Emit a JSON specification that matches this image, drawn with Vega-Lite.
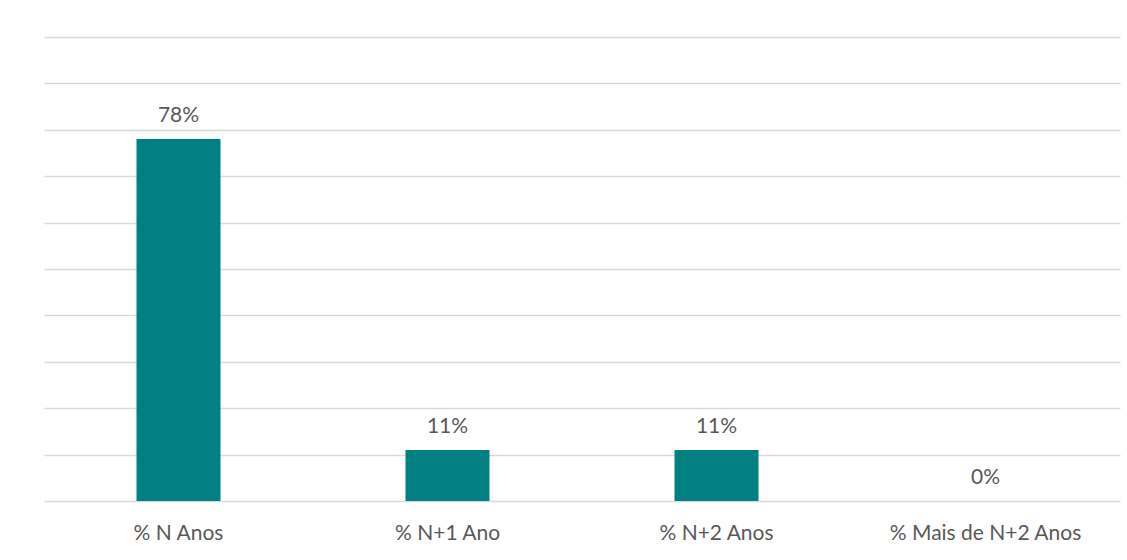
{
  "$schema": "https://vega.github.io/schema/vega-lite/v6.json",
  "width": 1076,
  "height": 464,
  "autosize": {"type": "none"},
  "padding": {"left": 44, "top": 37, "right": 7, "bottom": 59},
  "background": "#ffffff",
  "config": {"view": {"stroke": null}, "font": "Lato"},
  "data": {
    "values": [
      {"categoria": "% N Anos", "valor": 0.78},
      {"categoria": "% N+1 Ano", "valor": 0.11},
      {"categoria": "% N+2 Anos", "valor": 0.11},
      {"categoria": "% Mais de N+2 Anos", "valor": 0.0}
    ]
  },
  "encoding": {
    "x": {
      "field": "categoria",
      "type": "nominal",
      "sort": null,
      "scale": {"paddingInner": 0.6877, "paddingOuter": 0.34385},
      "axis": {
        "title": null,
        "domain": false,
        "ticks": false,
        "tickSize": 0,
        "labelPadding": 21,
        "labelAngle": 0,
        "labelLimit": 0,
        "labelFont": "Lato",
        "labelFontSize": 21,
        "labelColor": "#595959",
        "grid": false
      }
    },
    "y": {
      "field": "valor",
      "type": "quantitative",
      "scale": {"domain": [0, 1], "nice": false},
      "axis": {
        "title": null,
        "labels": false,
        "ticks": false,
        "domain": false,
        "values": [0, 0.1, 0.2, 0.3, 0.4, 0.5, 0.6, 0.7, 0.8, 0.9, 1.0],
        "grid": true,
        "gridColor": "#d9d9d9",
        "gridWidth": 1.3
      }
    }
  },
  "layer": [
    {"mark": {"type": "bar", "color": "#008080"}},
    {
      "mark": {
        "type": "text",
        "baseline": "alphabetic",
        "dy": -17,
        "font": "Lato",
        "fontSize": 21,
        "color": "#595959"
      },
      "encoding": {"text": {"field": "valor", "type": "quantitative", "format": ".0%"}}
    }
  ]
}
